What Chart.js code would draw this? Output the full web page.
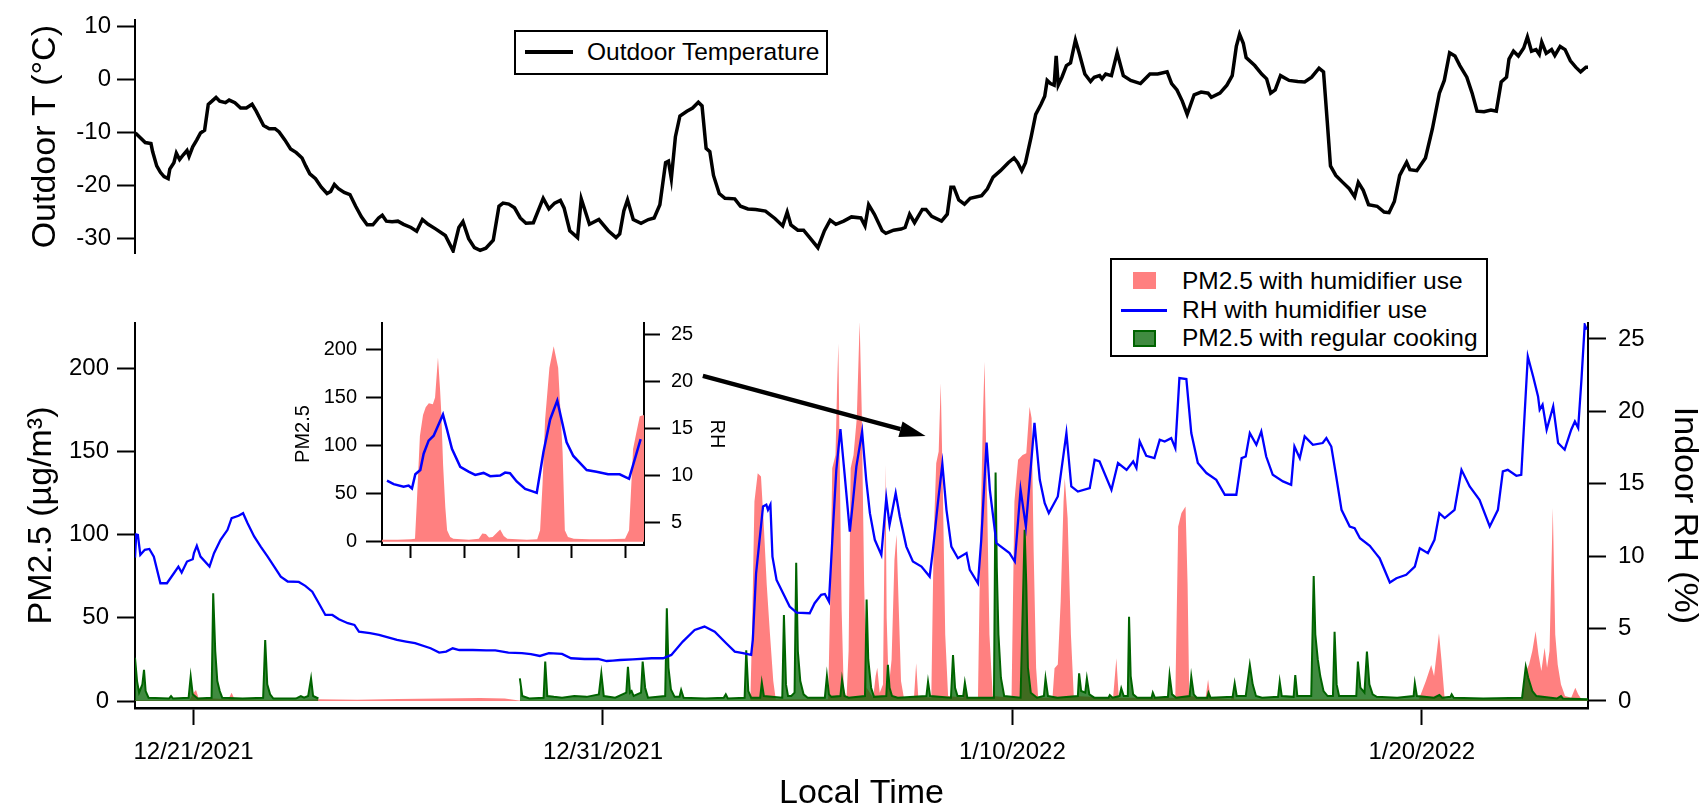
<!DOCTYPE html>
<html>
<head>
<meta charset="utf-8">
<script src="https://cdn.jsdelivr.net/npm/chart.js@4.4.1/dist/chart.umd.min.js"></script>
<style>
  html, body { margin: 0; padding: 0; background: #fff; }
  body { width: 1701px; height: 807px; position: relative; overflow: hidden;
         font-family: 'Liberation Sans', Arial, sans-serif; color: #000; }
  canvas { position: absolute; }
  #tempChart { left: 0; top: 0; }
  #pmChart { left: 0; top: 280px; }
  #insetChart { left: 290px; top: 300px; }
  .box { position: absolute; border: 2px solid #000; background: #fff; box-sizing: border-box; }
  .sw { position: absolute; box-sizing: border-box; }
  .txt { position: absolute; font-size: 24.5px; line-height: 28px; height: 28px; white-space: nowrap; }
</style>
</head>
<body>
<canvas id="tempChart" width="1701" height="275"></canvas>
<canvas id="pmChart" width="1701" height="527"></canvas>
<canvas id="insetChart" width="450" height="270"></canvas>

<div class="box" style="left:514px;top:30px;width:314px;height:45px;"></div>
<div class="sw" style="left:525px;top:50px;width:48px;height:3.5px;background:#000;"></div>
<div class="txt" id="lgT" style="left:587px;top:38px;"></div>

<div class="box" style="left:1110px;top:258px;width:378px;height:99px;"></div>
<div class="sw" style="left:1133px;top:272px;width:23px;height:17px;background:#ff8080;"></div>
<div class="txt" id="lg1" style="left:1182px;top:267px;"></div>
<div class="sw" style="left:1121px;top:309px;width:46px;height:2.5px;background:#0000ff;"></div>
<div class="txt" id="lg2" style="left:1182px;top:296px;"></div>
<div class="sw" style="left:1133px;top:330px;width:23px;height:17px;background:rgba(0,100,0,0.75);border:2px solid #006400;"></div>
<div class="txt" id="lg3" style="left:1182px;top:324px;"></div>

<script>
// x values are days after 12/21/2021 00:00 local time
const xMin = -1.43, xMax = 34.06;
const dateTickDays = [0, 10, 20, 30];
const dateTickLabels = ['12/21/2021', '12/31/2021', '1/10/2022', '1/20/2022'];

const tempTicks = [10, 0, -10, -20, -30];
const pmTicks = [0, 50, 100, 150, 200];
const rhTicks = [0, 5, 10, 15, 20, 25];

const seriesNames = ['Outdoor Temperature', 'PM2.5 with humidifier use', 'RH with humidifier use', 'PM2.5 with regular cooking'];

// outdoor temperature (°C)
const tempDays = [-1.42,-1.18,-1.04,-1.0,-0.9,-0.81,-0.72,-0.62,-0.58,-0.48,-0.42,-0.34,-0.25,-0.16,-0.11,-0.02,0.08,0.17,0.27,0.36,0.45,0.55,0.64,0.78,0.87,1.01,1.15,1.29,1.43,1.53,1.71,1.85,1.99,2.09,2.23,2.37,2.51,2.65,2.74,2.84,2.98,3.12,3.26,3.35,3.44,3.54,3.68,3.82,3.96,4.1,4.24,4.38,4.52,4.61,4.71,4.85,4.99,5.13,5.31,5.45,5.59,5.73,5.92,6.15,6.34,6.48,6.58,6.72,6.86,7.0,7.14,7.32,7.46,7.56,7.7,7.84,7.98,8.12,8.3,8.54,8.68,8.82,8.96,9.05,9.19,9.38,9.47,
  9.67,9.9,10.13,10.32,10.41,10.51,10.6,10.74,10.93,11.11,11.25,11.39,11.53,11.6,11.67,11.77,11.88,12.05,12.19,12.33,12.42,12.52,12.61,12.7,12.84,12.98,13.22,13.36,13.54,13.73,13.97,14.2,14.39,14.5,14.59,14.76,14.9,15.04,15.25,15.41,15.55,15.69,15.88,16.07,16.3,16.4,16.49,16.63,16.82,16.91,17.1,17.28,17.38,17.49,17.61,17.8,17.89,18.03,18.27,18.41,18.5,18.57,18.69,18.83,18.97,19.25,19.39,19.53,19.71,19.9,20.04,20.13,20.23,20.32,20.46,20.57,20.7,20.79,20.85,20.93,21.02,21.07,21.12,21.21,21.32,21.42,21.54,21.63,21.77,21.91,22.0,22.13,22.19,22.28,22.42,22.56,22.71,22.89,23.13,23.36,23.55,23.78,
  23.89,24.02,24.15,24.27,24.44,24.61,24.78,24.86,25.07,25.24,25.37,25.47,25.55,25.64,25.71,25.92,26.09,26.21,26.31,26.42,26.55,26.76,26.97,27.14,27.31,27.49,27.6,27.69,27.77,27.9,28.07,28.23,28.36,28.45,28.57,28.7,28.91,29.08,29.2,29.33,29.46,29.63,29.71,29.88,30.09,30.26,30.43,30.55,30.68,30.81,30.93,31.1,31.23,31.35,31.52,31.69,31.82,31.94,32.07,32.13,32.24,32.36,32.49,32.58,32.68,32.79,32.87,32.93,33.04,33.17,33.25,33.38,33.5,33.63,33.76,33.88,34.01,34.06];
const tempVals = [-10.1,-11.9,-12.1,-13.6,-16.3,-17.5,-18.3,-18.7,-16.9,-15.7,-13.9,-15.1,-14.2,-13.4,-14.5,-12.7,-11.4,-10.1,-9.6,-4.7,-4.1,-3.4,-4.1,-4.4,-3.9,-4.4,-5.4,-5.4,-4.7,-6.0,-8.7,-9.3,-9.3,-9.9,-11.4,-13.1,-13.8,-14.8,-16.3,-17.8,-18.7,-20.3,-21.5,-21.1,-19.8,-20.6,-21.3,-21.7,-23.9,-25.9,-27.4,-27.4,-26.1,-25.6,-26.7,-26.8,-26.7,-27.3,-27.9,-28.6,-26.4,-27.3,-28.2,-29.4,-32.3,-27.9,-26.8,-30.0,-31.7,-32.2,-31.8,-30.3,-23.9,-23.3,-23.5,-24.2,-26.1,-27.1,-27.0,-22.4,-24.4,-23.3,-22.8,-24.2,-28.5,-29.8,-22.5,
  -27.3,-26.4,-28.5,-29.8,-29.1,-24.8,-22.7,-26.4,-27.1,-26.4,-26.1,-23.6,-15.7,-15.4,-18.7,-10.8,-6.9,-6.0,-5.4,-4.3,-5.0,-13.0,-13.6,-18.1,-21.5,-22.4,-22.5,-23.9,-24.4,-24.5,-24.8,-26.2,-27.6,-25.0,-27.4,-28.4,-28.4,-29.7,-31.7,-28.5,-26.5,-27.3,-26.7,-25.9,-26.1,-27.6,-23.6,-25.4,-28.5,-29.0,-28.4,-28.2,-27.9,-25.4,-27.0,-24.5,-24.5,-25.8,-26.7,-25.4,-20.3,-20.3,-22.7,-23.5,-22.4,-21.9,-20.6,-18.4,-17.2,-15.7,-14.8,-15.7,-17.2,-15.7,-10.8,-6.6,-4.7,-3.2,-0.2,-0.8,-1.1,4.4,-1.1,0.4,2.6,3.1,7.4,5.0,1.0,-0.4,0.4,0.7,0.1,1.0,0.7,5.0,0.7,-0.2,-0.8,1.0,1.0,1.4,
  -0.8,-2.0,-4.1,-6.6,-2.9,-2.4,-2.6,-3.4,-2.6,-1.1,0.7,6.2,8.5,6.8,4.1,2.6,1.0,0.1,-2.6,-2.0,0.7,-0.2,-0.4,-0.5,0.4,2.1,1.4,-7.8,-16.3,-18.1,-19.4,-20.6,-22.1,-19.4,-20.9,-23.6,-23.9,-25.0,-25.1,-23.0,-18.1,-15.6,-17.0,-17.2,-14.8,-9.3,-2.6,-0.2,5.0,4.4,2.6,0.4,-2.6,-6.0,-6.1,-5.8,-6.0,-0.5,0.4,3.8,5.3,4.4,5.9,8.0,5.3,5.6,4.7,7.0,4.9,5.6,4.5,6.2,5.6,3.5,2.3,1.4,2.3,2.3];

// indoor relative humidity (%)
const rhDays = [-1.43,-1.4,-1.36,-1.3,-1.19,-1.08,-0.97,-0.81,-0.65,-0.48,-0.37,-0.29,-0.16,-0.02,0.01,0.08,0.17,0.39,0.5,0.66,0.83,0.93,1.1,1.21,1.32,1.48,1.64,1.81,1.97,2.13,2.3,2.57,2.73,2.9,3.06,3.22,3.39,3.55,3.77,3.93,4.04,4.31,4.53,4.75,4.97,5.19,5.41,5.79,6.0,6.17,6.33,6.49,6.82,7.15,7.37,7.69,8.02,8.24,8.46,8.68,9.0,9.22,9.55,9.88,10.09,10.24,10.42,10.73,11.19,11.47,11.67,11.95,12.24,12.48,12.73,13.01,13.22,13.42,13.62,13.66,13.74,13.91,13.99,14.03,14.09,14.14,14.24,14.4,14.56,14.73,15.05,15.17,15.33,15.42,15.52,15.62,15.7,15.8,15.9,16.03,16.11,16.19,16.33,16.43,16.52,16.64,16.8,16.92,17.0,17.15,17.25,17.41,17.57,17.78,17.98,18.06,18.18,18.29,18.39,18.51,18.67,18.88,18.96,19.16,19.24,19.37,19.45,19.61,19.93,20.06,20.2,20.33,20.54,20.67,20.79,20.89,21.11,21.32,21.44,21.6,21.89,22.01,22.13,22.42,22.58,22.79,22.95,23.03,23.11,23.27,23.47,23.6,23.72,23.88,23.98,24.08,24.25,24.37,24.53,24.74,24.98,25.19,25.47,25.6,25.7,25.8,25.96,26.08,26.2,26.36,26.61,26.81,26.89,27.02,27.14,27.34,27.58,27.67,27.79,27.91,28.04,28.24,28.36,28.49,28.73,28.89,28.97,29.22,29.38,29.62,29.83,29.95,30.15,30.31,30.43,30.56,30.8,30.97,31.17,31.41,31.66,31.86,31.98,32.1,32.31,32.43,32.59,32.72,32.84,32.88,32.95,33.05,33.21,33.33,33.49,33.65,33.74,33.82,33.9,33.98,34.03];
const rhVals = [9.9,11.5,11.47,10.09,10.44,10.5,9.97,8.13,8.13,8.82,9.28,8.87,9.63,9.79,10.21,10.71,9.97,9.28,10.21,11.13,11.82,12.63,12.79,12.97,12.28,11.36,10.66,9.97,9.28,8.59,8.25,8.22,7.95,7.55,6.75,5.94,5.94,5.64,5.37,5.25,4.79,4.68,4.57,4.4,4.22,4.1,3.99,3.64,3.34,3.41,3.64,3.52,3.52,3.49,3.49,3.34,3.3,3.23,3.11,3.3,3.25,2.95,2.9,2.9,2.76,2.79,2.83,2.88,2.95,2.95,3.18,4.1,4.91,5.14,4.79,3.99,3.41,3.3,3.18,4.22,8.82,13.43,13.55,13.2,13.55,9.97,8.36,7.44,6.52,6.1,6.06,6.75,7.33,7.39,6.86,12.05,15.96,18.78,15.74,11.7,13.89,16.19,18.61,15.27,12.97,11.13,10.09,14.01,12.16,14.35,12.74,10.66,9.63,9.28,8.59,10.44,13.66,16.38,13.2,10.66,9.86,10.21,9.05,8.13,11.13,17.85,14.58,10.9,10.21,9.63,14.6,12.05,19.2,15.27,13.66,12.97,14.12,18.5,14.81,14.46,14.7,16.66,16.54,14.58,16.43,15.96,16.54,16.08,17.92,16.93,16.77,18.04,17.92,18.15,17.46,22.3,22.23,18.5,16.43,15.74,15.27,14.24,14.24,16.77,16.88,18.5,17.69,18.61,16.88,15.62,15.16,14.93,17.57,16.77,18.27,17.69,17.81,18.15,17.57,15.5,13.2,12.05,11.93,11.24,10.71,10.14,9.86,8.18,8.48,8.71,9.28,10.55,10.21,11.13,12.97,12.63,13.2,15.96,14.81,13.89,12.05,13.2,15.85,15.96,15.55,15.62,23.79,22.41,21.03,20.11,20.46,18.73,20.34,17.81,17.35,18.73,19.3,18.85,22.18,25.98,25.64];

// PM2.5 with humidifier use (µg/m³)
const pinkDays = [-1.43,-0.1,0.0,0.06,0.12,0.85,0.93,1.0,2.3,3.0,4.0,5.0,6.0,7.0,7.6,7.95,13.6,13.64,13.7,13.78,13.86,13.93,14.0,14.08,14.16,14.22,15.5,15.55,15.6,15.68,15.72,15.75,15.78,15.83,15.88,15.95,16.0,16.05,16.12,16.2,16.27,16.32,16.38,16.44,16.6,16.66,16.7,16.76,16.84,16.87,16.9,16.93,16.98,17.05,17.12,17.17,17.22,17.28,17.35,17.6,17.65,17.7,18.02,18.08,18.14,18.2,18.25,18.3,18.36,18.43,18.8,18.84,18.88,19.16,19.22,19.28,19.32,19.37,19.44,19.52,19.98,20.05,20.14,20.25,20.34,20.42,20.47,20.52,20.58,20.63,20.98,21.03,21.11,21.18,21.25,21.28,21.35,21.43,21.5,22.46,22.54,22.6,23.98,24.05,24.13,24.23,24.28,24.32,24.72,24.78,24.84,25.34,25.38,25.42,29.93,30.1,30.23,30.3,30.42,30.48,30.56,32.45,32.55,32.62,32.7,32.78,32.85,32.92,33.0,33.06,33.12,33.2,33.26,33.32,33.4,33.5,33.65,33.75,33.82,33.9,34.06];
const pinkVals = [0.5,0.5,5,6.6,2,1,5,1,0.5,1.0,0.8,1.2,1.5,1.8,1.5,0.3,0.3,40,120,137,135,105,70,40,12,1,1,60,140,148,190,215,150,55,8,2,30,140,148,170,228,175,70,8,2,15,20,5,10,80,142,50,8,25,85,100,60,12,2,3,22.7,3,2,100,143,150,191,130,40,3,2,12.6,2,2,100,170,204,140,40,3,2,120,145,148,149,177,170,90,20,2,2,19.7,22,60,120,134,110,40,3,2,25.7,2,2,105,113,117,70,3,2,13,2,1,4.8,1,1,12,21.7,15,40.7,25,1,1,18,22,30,42,28,18,32,20,30,116,40,22,10,3,2,8,4,1,0.5];

// PM2.5 with regular cooking (µg/m³); null marks the gap in the record
const greenDays = [-1.43,-1.38,-1.33,-1.25,-1.21,-1.17,-1.1,-0.6,-0.55,-0.5,-0.12,-0.07,-0.02,0.1,0.44,0.48,0.53,0.58,0.64,0.7,1.2,1.7,1.75,1.8,1.87,1.95,2.5,2.62,2.7,2.8,2.87,2.92,3.05,5.0,7.97,8.03,8.2,8.55,8.59,8.64,8.8,9.0,9.3,9.6,9.9,9.96,10.02,10.3,10.57,10.61,10.66,10.7,10.75,10.93,10.97,11.03,11.1,11.52,11.56,11.6,11.66,11.75,11.87,11.91,11.97,12.5,12.95,13.0,13.05,13.46,13.5,13.55,13.62,13.84,13.88,13.93,14.38,14.42,14.47,14.52,14.6,14.68,14.72,14.76,14.82,14.9,15.0,15.42,15.47,15.52,15.58,15.8,15.84,15.9,16.0,16.4,16.44,16.48,16.55,16.62,16.92,16.96,17.0,17.06,17.2,17.9,17.94,17.99,18.5,18.55,18.6,18.66,18.8,18.84,18.9,19.55,19.59,19.62,19.66,19.72,19.8,20.2,20.3,20.34,20.38,20.45,20.6,20.77,20.81,20.87,21.1,21.6,21.63,21.68,21.78,21.82,21.88,22.0,22.35,22.38,22.45,22.62,22.66,22.72,22.82,22.85,22.89,22.95,23.05,23.4,23.43,23.48,23.8,23.84,23.9,24.0,24.33,24.37,24.43,24.5,24.76,24.79,24.84,25.38,25.43,25.48,25.7,25.8,25.87,25.95,26.1,26.49,26.53,26.58,26.87,26.91,26.96,27.3,27.36,27.4,27.46,27.52,27.6,27.7,27.83,27.87,27.92,27.98,28.4,28.44,28.5,28.6,28.66,28.72,28.8,28.9,29.4,29.8,29.83,29.88,30.3,30.43,30.5,30.7,30.73,30.78,31.5,32.45,32.54,32.6,32.7,32.8,33.3,33.4,33.45,34.06];
const greenVals = [26,12,5,10,18.7,6,2,1.5,3,1.5,2,14.6,4,1.5,2,64.8,30,12,6,2,1.5,2,36.7,10,4,1.5,1.5,3,2,3,13.6,3,1.5,null,13.6,3,1.5,2,23.7,3,2.5,2,3,2.5,4,16.6,3,2,5,20.6,5,6,3,5,23.7,8,2,3,55.8,20,7,2.5,2.5,6.6,2,1.5,2,4,1.5,2,30.5,6,2,2,11,3,2,51.7,10,3,3,5,83.2,30,12,4,2,2,15,4,2.5,3,13,3,2,3,61,25,8,2.5,3,21.7,8,3,2,3,11.6,3,2,27.7,8,3,3,11,2,2,137.4,80,40,14,3,2,102.9,70,20,5,2,3,13.6,3,2,3,16.6,6,5,13.6,4,2,2,3.5,2,3,7.6,3,3,50.7,15,4,2,2,5,2,2.5,15.6,4,2,3,14.6,4,2,2,5,2,2.5,10.6,3,3,21.7,10,3,2,2.5,11.6,3,2.5,15.6,3,3,75.2,40,25,15,6,3,3,41.7,10,3,3,23.7,8,5,29.7,10,4,2.5,2,3,10.6,3,2,3.6,2,2.5,4,2,1.5,2,20.6,14,6,3,1.5,3,1.5,1];

// inset: hours from the first inset tick
const insetTickHours = [0, 12, 24, 36, 48];
const insetPmTicks = [0, 50, 100, 150, 200];
const insetRhTicks = [5, 10, 15, 20, 25];
const insetPmHours = [-6.5,-3,0,0.9,1.3,2.0,2.7,3.3,4.0,4.9,5.4,6.05,6.5,6.8,7.2,7.7,8.1,8.8,9.5,13,15.2,16.0,16.8,17.5,18.3,19.2,20.0,20.8,21.6,26,28.3,28.95,29.5,30.07,31.04,32.0,33.0,34.0,34.5,35.2,36.5,40,44,48,48.9,49.8,50.6,51.3,52.25];
const insetPmVals = [2,2,2.5,3,40,110,132,140,144,143,150,191.6,160,134,80,35.6,12,5,3,2,3,8.5,8,4.5,5,9,12.6,6,3,2,2.5,12,60,127,181,203.5,181,93,12,5,3,2.5,2.5,3,12,96.6,115,130.6,132];
const insetRhHours = [-5.38,-3.89,-1.65,-0.53,0.22,0.97,2.09,2.84,3.96,5.08,7.17,8.06,9.18,11.05,12.91,14.4,16.27,17.76,20.0,21.1,22.2,23.7,25.6,27.1,28.2,29.7,31.2,32.8,34.9,36.4,39.4,41.6,44.2,46.8,48.9,51.5];
const insetRhVals = [9.41,9.05,8.78,8.89,8.58,10.1,10.55,12.28,13.67,14.19,16.44,14.88,12.8,10.89,10.37,10.03,10.24,9.89,9.96,10.27,10.2,9.33,8.53,8.3,8.12,12.45,15.92,17.93,13.49,12.04,10.55,10.37,10.09,10.09,9.61,13.84];

// arrow from the inset towards the main panel, in (day, PM2.5)
const arrowFrom = [12.44, 195.5];
const arrowTo = [17.88, 159.4];

const pts = (xs, ys) => xs.map((x, i) => ({x: x, y: ys[i]}));

const PINK = '#ff8080';
const BLUE = '#0000ff';
const GREEN_FILL = 'rgba(0,100,0,0.75)';
const GREEN_LINE = '#006400';

Chart.defaults.font.family = "'Liberation Sans', Arial, sans-serif";
Chart.defaults.color = '#000';
Chart.defaults.animation = false;

document.getElementById('lgT').textContent = seriesNames[0];
document.getElementById('lg1').textContent = seriesNames[1];
document.getElementById('lg2').textContent = seriesNames[2];
document.getElementById('lg3').textContent = seriesNames[3];

function fixedTicks(list) {
  return function (s) { s.ticks = list.map(v => ({value: v})); };
}

// top panel: outdoor temperature
new Chart(document.getElementById('tempChart'), {
  type: 'line',
  data: {
    datasets: [{
      label: seriesNames[0],
      data: pts(tempDays, tempVals),
      borderColor: '#000', borderWidth: 3.5, pointRadius: 0, tension: 0, fill: false
    }]
  },
  options: {
    responsive: false, devicePixelRatio: 1,
    layout: {padding: {top: 13, bottom: 22, left: 0, right: 113}},
    plugins: {legend: {display: false}, tooltip: {enabled: false}},
    scales: {
      x: {type: 'linear', min: xMin, max: xMax, display: false},
      y: {
        min: -32.7, max: 11.1,
        afterBuildTicks: fixedTicks(tempTicks),
        afterFit: s => { s.width = 135; },
        ticks: {font: {size: 24}, color: '#000', padding: 6},
        grid: {drawOnChartArea: false, tickLength: 18, tickWidth: 2, tickColor: '#000'},
        border: {color: '#000', width: 2},
        title: {display: true, text: 'Outdoor T (°C)', color: '#000',
                font: {size: 34, lineHeight: 1.2}, padding: {top: 25}}
      }
    }
  }
});

const arrowPlugin = {
  id: 'arrow',
  afterDatasetsDraw(chart) {
    const ctx = chart.ctx, x = chart.scales.x, y = chart.scales.y;
    const x0 = x.getPixelForValue(arrowFrom[0]), y0 = y.getPixelForValue(arrowFrom[1]);
    const x1 = x.getPixelForValue(arrowTo[0]), y1 = y.getPixelForValue(arrowTo[1]);
    const a = Math.atan2(y1 - y0, x1 - x0);
    const head = 26, half = 8;
    const bx = x1 - head * Math.cos(a), by = y1 - head * Math.sin(a);
    ctx.save();
    ctx.strokeStyle = '#000';
    ctx.fillStyle = '#000';
    ctx.lineWidth = 4.5;
    ctx.beginPath();
    ctx.moveTo(x0, y0);
    ctx.lineTo(bx, by);
    ctx.stroke();
    ctx.beginPath();
    ctx.moveTo(x1, y1);
    ctx.lineTo(bx + half * Math.sin(a), by - half * Math.cos(a));
    ctx.lineTo(bx - half * Math.sin(a), by + half * Math.cos(a));
    ctx.closePath();
    ctx.fill();
    ctx.restore();
  }
};

// bottom panel: PM2.5 and RH
new Chart(document.getElementById('pmChart'), {
  type: 'line',
  data: {
    datasets: [
      {
        label: seriesNames[2], data: pts(rhDays, rhVals), yAxisID: 'y2',
        borderColor: BLUE, borderWidth: 2.3, pointRadius: 0, tension: 0, fill: false, order: 0
      },
      {
        label: seriesNames[3], data: pts(greenDays, greenVals), yAxisID: 'y',
        borderColor: GREEN_LINE, backgroundColor: GREEN_FILL, borderWidth: 2,
        pointRadius: 0, tension: 0, fill: 'origin', spanGaps: false, order: 1
      },
      {
        label: seriesNames[1], data: pts(pinkDays, pinkVals), yAxisID: 'y',
        borderColor: PINK, backgroundColor: PINK, borderWidth: 0,
        pointRadius: 0, tension: 0, fill: 'origin', order: 2
      }
    ]
  },
  options: {
    responsive: false, devicePixelRatio: 1,
    layout: {padding: {top: 43, bottom: 0, left: 0, right: 0}},
    plugins: {legend: {display: false}, tooltip: {enabled: false}},
    scales: {
      x: {
        type: 'linear', min: xMin, max: xMax,
        afterBuildTicks: fixedTicks(dateTickDays),
        afterFit: s => { s.height = 99; },
        ticks: {
          font: {size: 24}, color: '#000', padding: 13, maxRotation: 0, autoSkip: false,
          callback: v => { const i = dateTickDays.indexOf(v); return i >= 0 ? dateTickLabels[i] : ''; }
        },
        grid: {drawOnChartArea: false, tickLength: 17, tickWidth: 2, tickColor: '#000'},
        border: {color: '#000', width: 2.5},
        title: {display: true, text: 'Local Time', color: '#000',
                font: {size: 34, lineHeight: 0.8}, padding: 0}
      },
      y: {
        position: 'left', min: -4.2, max: 227.3,
        afterBuildTicks: fixedTicks(pmTicks),
        afterFit: s => { s.width = 135; },
        ticks: {font: {size: 24}, color: '#000', padding: 8},
        grid: {drawOnChartArea: false, tickLength: 18, tickWidth: 2, tickColor: '#000'},
        border: {color: '#000', width: 2},
        title: {display: true, text: 'PM2.5 (µg/m³)', color: '#000',
                font: {size: 34, lineHeight: 1.2}, padding: {top: 21}}
      },
      y2: {
        position: 'right', min: -0.484, max: 26.1,
        afterBuildTicks: fixedTicks(rhTicks),
        afterFit: s => { s.width = 113; },
        ticks: {font: {size: 24}, color: '#000', padding: 12},
        grid: {drawOnChartArea: false, tickLength: 18, tickWidth: 2, tickColor: '#000'},
        border: {color: '#000', width: 2},
        title: {display: true, text: 'Indoor RH (%)', color: '#000',
                font: {size: 34, lineHeight: 0.9}, padding: {top: 1}}
      }
    }
  },
  plugins: [arrowPlugin]
});

// inset
new Chart(document.getElementById('insetChart'), {
  type: 'line',
  data: {
    datasets: [
      {
        label: 'RH', data: pts(insetRhHours, insetRhVals), yAxisID: 'y2',
        borderColor: BLUE, borderWidth: 2.5, pointRadius: 0, tension: 0, fill: false, order: 0
      },
      {
        label: 'PM2.5', data: pts(insetPmHours, insetPmVals), yAxisID: 'y',
        borderColor: PINK, backgroundColor: PINK, borderWidth: 0,
        pointRadius: 0, tension: 0, fill: 'origin', order: 1
      }
    ]
  },
  options: {
    responsive: false, devicePixelRatio: 1,
    layout: {padding: {top: 18, bottom: 0, left: 0, right: 0}},
    plugins: {legend: {display: false}, tooltip: {enabled: false}},
    scales: {
      x: {
        type: 'linear', min: -6.5, max: 52.25,
        afterBuildTicks: fixedTicks(insetTickHours),
        afterFit: s => { s.height = 25; },
        ticks: {display: false},
        grid: {drawOnChartArea: false, tickLength: 13, tickWidth: 2, tickColor: '#000'},
        border: {color: '#000', width: 2}
      },
      y: {
        position: 'left', min: -3.4, max: 227.6,
        afterBuildTicks: fixedTicks(insetPmTicks),
        afterFit: s => { s.width = 92; },
        ticks: {font: {size: 20}, color: '#000', padding: 9},
        grid: {drawOnChartArea: false, tickLength: 16, tickWidth: 2, tickColor: '#000'},
        border: {color: '#000', width: 2},
        title: {display: true, text: 'PM2.5', color: '#000',
                font: {size: 20, lineHeight: 1}, padding: {top: 3}}
      },
      y2: {
        position: 'right', min: 2.58, max: 26.17,
        afterBuildTicks: fixedTicks(insetRhTicks),
        afterFit: s => { s.width = 96; },
        ticks: {font: {size: 20}, color: '#000', padding: 11},
        grid: {drawOnChartArea: false, tickLength: 16, tickWidth: 2, tickColor: '#000'},
        border: {color: '#000', width: 2},
        title: {display: true, text: 'RH', color: '#000',
                font: {size: 20, lineHeight: 1}, padding: {top: 13}}
      }
    }
  }
});
</script>
</body>
</html>
